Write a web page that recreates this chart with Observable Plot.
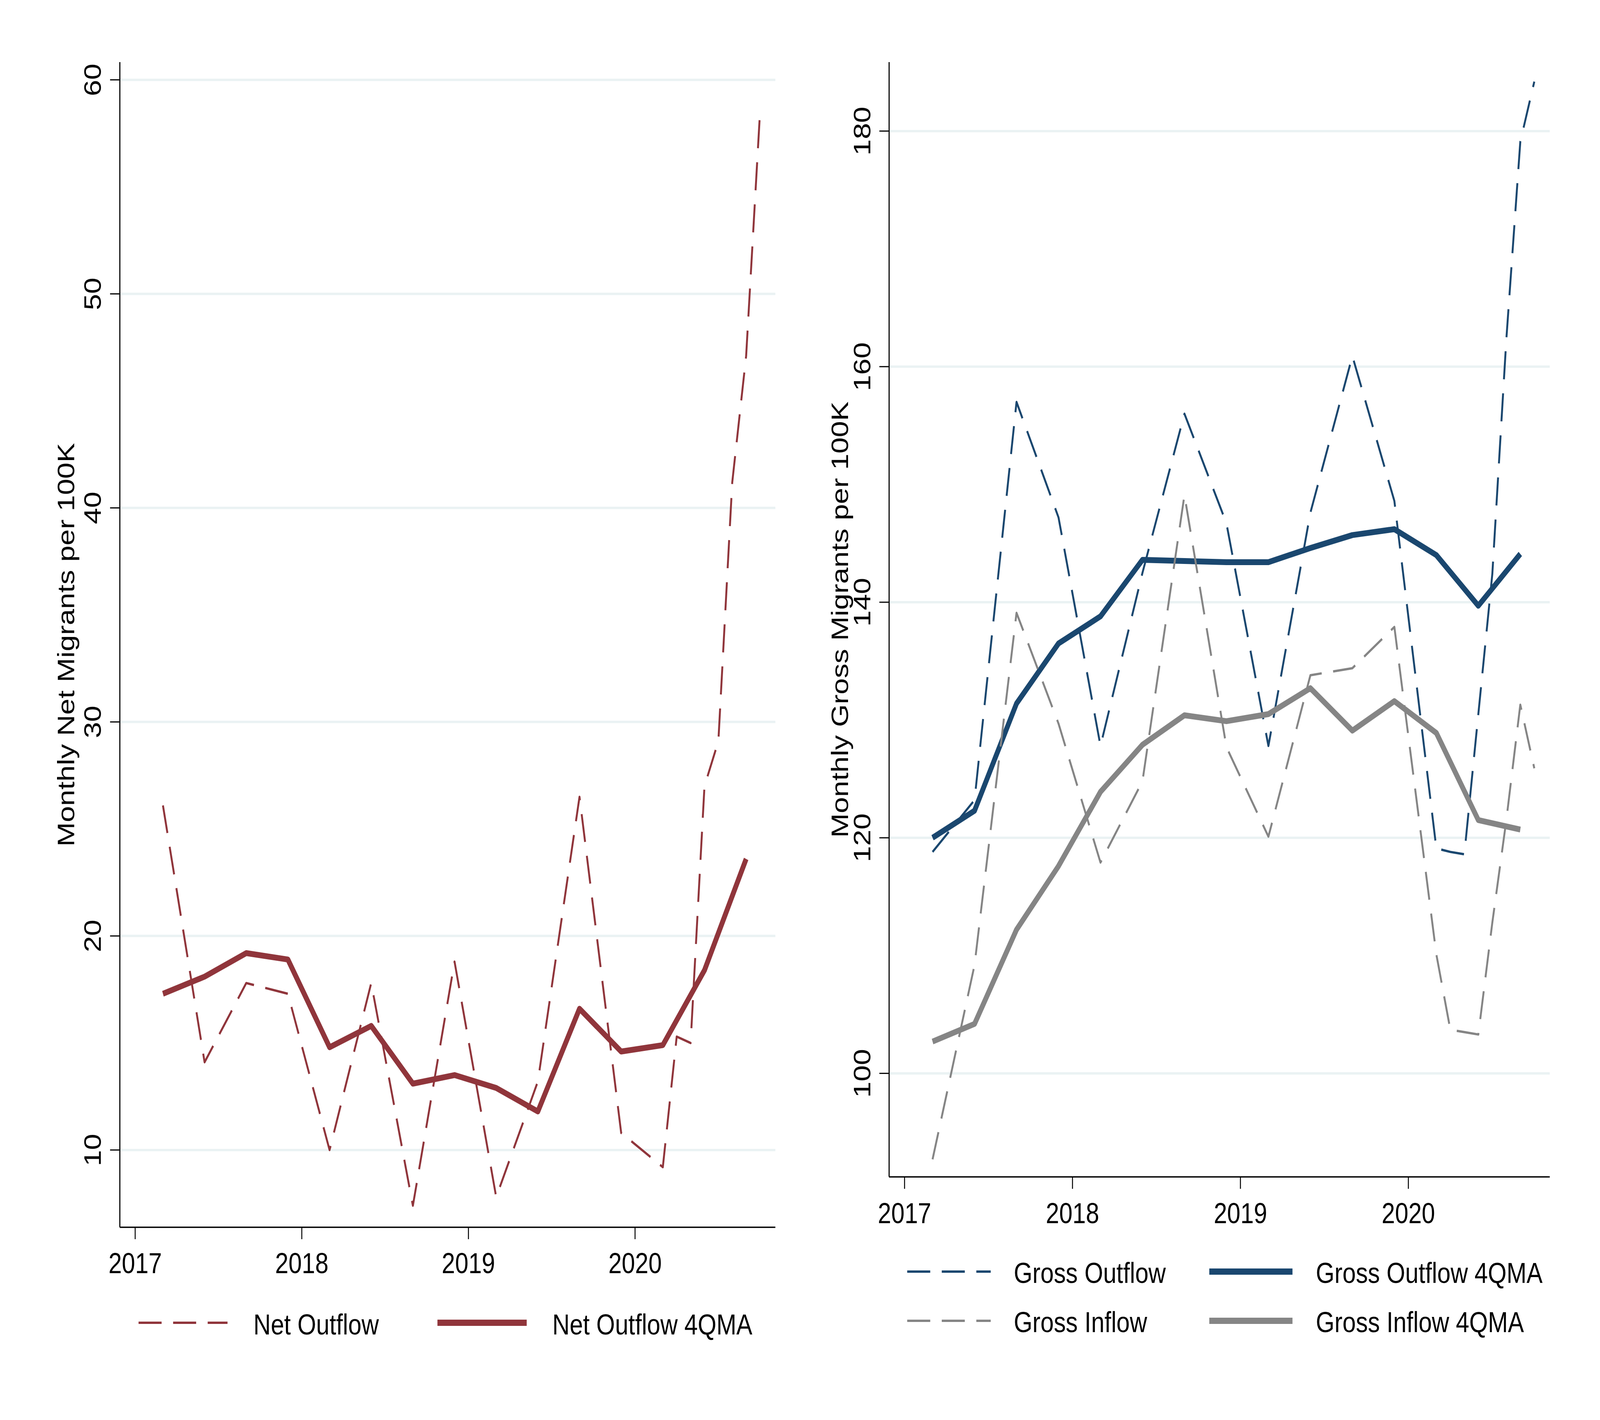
<!DOCTYPE html>
<html>
<head>
<meta charset="utf-8">
<script src="https://cdn.jsdelivr.net/npm/d3@7"></script>
<script src="https://cdn.jsdelivr.net/npm/@observablehq/plot@0.6"></script>
<style>
html, body { margin: 0; padding: 0; background: #fff; overflow: hidden; }
#root { position: relative; width: 5000px; height: 3636px; background: #fff; font-family: "Liberation Sans", Arial, sans-serif; overflow: hidden; transform-origin: 0 0; }
.panel { position: absolute; top: 0; }
.leg { position: absolute; font-size: 75px; line-height: 75px; white-space: nowrap; color: #000; }
.sw { position: absolute; overflow: visible; }
</style>
</head>
<body>
<div id="root"></div>
<script>
// ---------------- data ----------------
const dashedDates = ["2017-03","2017-06","2017-09","2017-12","2018-03","2018-06","2018-09","2018-12",
  "2019-03","2019-06","2019-09","2019-12","2020-03","2020-04","2020-05","2020-06","2020-07","2020-08","2020-09","2020-10"];
const quarterDates = ["2017-03","2017-06","2017-09","2017-12","2018-03","2018-06","2018-09","2018-12",
  "2019-03","2019-06","2019-09","2019-12","2020-03","2020-06","2020-09"];

const netOutflow = [26.1, 14.1, 17.8, 17.3, 10.0, 17.8, 7.4, 18.8, 7.8, 13.2, 26.5, 10.8, 9.2, 15.3, 15.0, 27.0, 29.1, 41.2, 47.1, 58.5];
const netOutflow4QMA = [17.3, 18.1, 19.2, 18.9, 14.8, 15.8, 13.1, 13.5, 12.9, 11.8, 16.6, 14.6, 14.9, 18.4, 23.6];

const grossOutflow = [118.8, 123.2, 157.0, 147.2, 127.8, 142.5, 156.0, 146.7, 127.8, 147.6, 160.9, 148.6, 119.1, 118.8, 118.6, 130.5, 142.4, 162.3, 179.1, 184.2];
const grossInflow = [92.7, 109.2, 139.1, 129.7, 117.9, 124.8, 149.1, 127.7, 120.1, 133.8, 134.4, 137.9, 110.1, 103.7, 103.5, 103.3, 112.8, 121.5, 131.3, 125.9];
const grossOutflow4QMA = [120.0, 122.3, 131.4, 136.5, 138.8, 143.6, 143.5, 143.4, 143.4, 144.6, 145.7, 146.2, 144.0, 139.7, 144.1];
const grossInflow4QMA = [102.7, 104.2, 112.2, 117.6, 123.9, 127.9, 130.4, 129.9, 130.5, 132.7, 129.1, 131.6, 128.9, 121.5, 120.7];

const xTicks = [2017, 2018, 2019, 2020];
const netYTicks = [10, 20, 30, 40, 50, 60];
const grossYTicks = [100, 120, 140, 160, 180];

const netTitle = "Monthly Net Migrants per 100K";
const grossTitle = "Monthly Gross Migrants per 100K";

// ---------------- styles ----------------
const RED = "#90353B", NAVY = "#1A476F", GRAY = "#858585", GRID = "#EAF2F3";
const FONT = '"Liberation Sans", Arial, sans-serif';
const DASH = "72,36";
const xDomain = [2016.908, 2020.843];

function toYear(s) { return +s.slice(0, 4) + (+s.slice(5, 7) - 1) / 12; }
function rows(dates, values) { return dates.map((d, i) => ({x: toYear(d), y: values[i]})); }

function panel(o) {
  const lineMarks = o.series.map(s => Plot.line(rows(s.dates, s.values), {
    x: "x", y: "y", stroke: s.color,
    strokeWidth: s.dashed ? 6 : 15,
    ...(s.dashed ? {strokeDasharray: DASH} : {}),
    strokeLinecap: "butt", strokeLinejoin: "round"
  }));
  return Plot.plot({
    width: o.width, height: o.height,
    marginLeft: o.ml, marginRight: o.mr, marginTop: o.mt, marginBottom: o.mb,
    x: {domain: xDomain},
    y: {domain: o.yDomain},
    style: {fontFamily: FONT, fontSize: "75px", color: "#000", background: "transparent", overflow: "visible"},
    marks: [
      Plot.gridY(o.yTicks, {stroke: GRID, strokeOpacity: 1, strokeWidth: 6}),
      ...lineMarks,
      Plot.ruleX([xDomain[0]], {stroke: "#000", strokeWidth: 3.5}),
      Plot.ruleY([o.yDomain[0]], {stroke: "#000", strokeWidth: 3.5}),
      Plot.axisY(o.yTicks, {anchor: "left", tickSize: 30, tickPadding: 29, tickRotate: -90, tickFormat: d => String(d), strokeWidth: 3, label: null}),
      Plot.axisX(xTicks, {anchor: "bottom", tickSize: 31, tickPadding: o.xPad, tickFormat: d => String(d), strokeWidth: 3, label: null}),
      Plot.text([o.title], {text: d => d, frameAnchor: "left", dx: o.titleDx, rotate: -90, textAnchor: "middle", lineAnchor: "middle", fontSize: 75})
    ]
  });
}

const root = document.getElementById("root");

const left = panel({
  width: 2500, height: 3320, ml: 374, mr: 77, mt: 159, mb: 178,
  yDomain: [6.39, 60.82], yTicks: netYTicks, xPad: 33,
  title: netTitle, titleDx: -167,
  series: [
    {dates: dashedDates, values: netOutflow, color: RED, dashed: true},
    {dates: quarterDates, values: netOutflow4QMA, color: RED, dashed: false}
  ]
});
left.classList.add("panel"); left.style.left = "0px";
root.appendChild(left);

const right = panel({
  width: 2500, height: 3180, ml: 278, mr: 157, mt: 159, mb: 167,
  yDomain: [91.21, 185.84], yTicks: grossYTicks, xPad: 34,
  title: grossTitle, titleDx: -152,
  series: [
    {dates: dashedDates, values: grossOutflow, color: NAVY, dashed: true},
    {dates: quarterDates, values: grossOutflow4QMA, color: NAVY, dashed: false},
    {dates: dashedDates, values: grossInflow, color: GRAY, dashed: true},
    {dates: quarterDates, values: grossInflow4QMA, color: GRAY, dashed: false}
  ]
});
right.classList.add("panel"); right.style.left = "2500px";
root.appendChild(right);

// ---------------- legends ----------------
const legendItems = [
  {label: "Net Outflow", color: RED, dashed: true, x1: 433, x2: 711, y: 3387, tx: 792, base: 3417},
  {label: "Net Outflow 4QMA", color: RED, dashed: false, x1: 1367, x2: 1646, y: 3387, tx: 1726, base: 3417},
  {label: "Gross Outflow", color: NAVY, dashed: true, x1: 2835, x2: 3096, y: 3256, tx: 3168, base: 3285},
  {label: "Gross Outflow 4QMA", color: NAVY, dashed: false, x1: 3779, x2: 4039, y: 3256, tx: 4112, base: 3285},
  {label: "Gross Inflow", color: GRAY, dashed: true, x1: 2835, x2: 3096, y: 3382, tx: 3168, base: 3411},
  {label: "Gross Inflow 4QMA", color: GRAY, dashed: false, x1: 3779, x2: 4039, y: 3382, tx: 4112, base: 3411}
];
const NS = "http://www.w3.org/2000/svg";
for (const it of legendItems) {
  const w = it.x2 - it.x1;
  const svg = document.createElementNS(NS, "svg");
  svg.setAttribute("class", "sw");
  svg.setAttribute("width", w); svg.setAttribute("height", 20);
  svg.style.left = it.x1 + "px"; svg.style.top = (it.y - 10) + "px";
  const ln = document.createElementNS(NS, "line");
  ln.setAttribute("x1", 0); ln.setAttribute("x2", w);
  ln.setAttribute("y1", 10); ln.setAttribute("y2", 10);
  ln.setAttribute("stroke", it.color);
  ln.setAttribute("stroke-width", it.dashed ? 6 : 16);
  if (it.dashed) ln.setAttribute("stroke-dasharray", DASH);
  svg.appendChild(ln);
  root.appendChild(svg);
  const t = document.createElement("div");
  t.className = "leg";
  t.textContent = it.label;
  t.style.left = it.tx + "px";
  t.style.top = (it.base - 63.5) + "px";
  root.appendChild(t);
}

// the window may be narrower than 5000px: map the 5000x3636 layout onto the whole viewport
function fit() {
  const sx = window.innerWidth / 5000, sy = window.innerHeight / 3636;
  root.style.transform = (Math.abs(sx - 1) < 0.001 && Math.abs(sy - 1) < 0.001) ? "" : `scale(${sx}, ${sy})`;
}
fit();
window.addEventListener("resize", fit);
</script>
</body>
</html>
